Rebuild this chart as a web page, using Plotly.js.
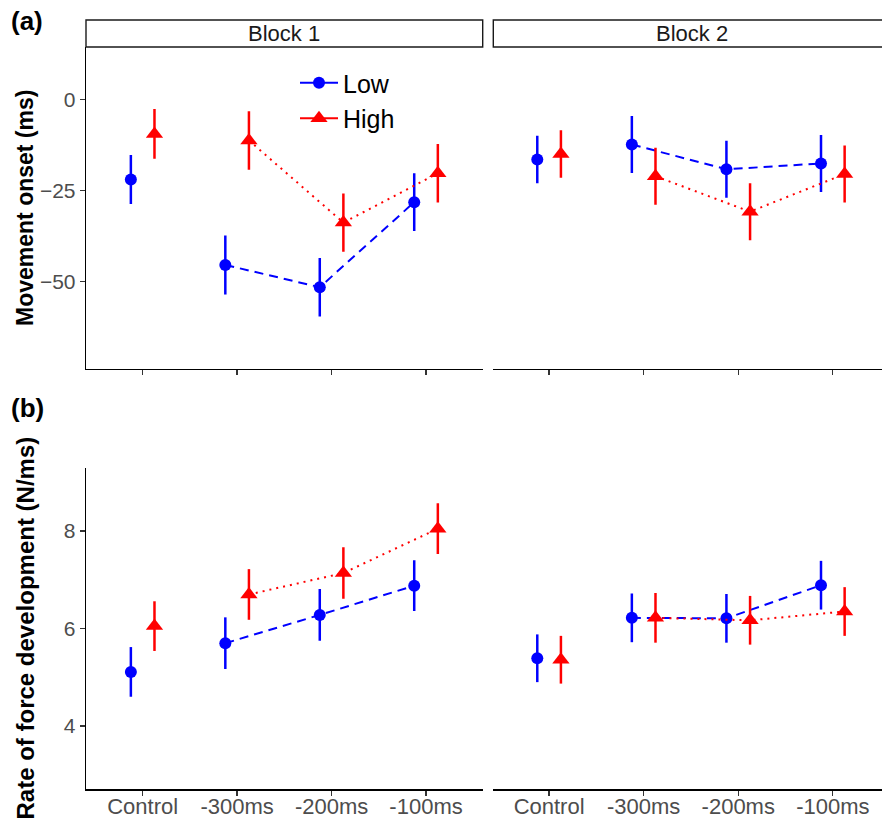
<!DOCTYPE html>
<html><head><meta charset="utf-8">
<script src="https://cdn.plot.ly/plotly-3.0.1.min.js"></script>
<style>html,body{margin:0;padding:0;background:#fff}#chart{width:882px;height:819px}</style>
</head><body><div id="chart"></div>
<script>
// ---- data ----
const categories = ['Control', '-300ms', '-200ms', '-100ms'];
const groups = ['Low', 'High'];
const blocks = ['Block 1', 'Block 2'];

// (a) Movement onset (ms)
const onsetB1Low = [-22.0, -45.4, -51.5, -28.2];
const onsetB1LowErr = [6.7, 8.1, 8.0, 7.9];
const onsetB1High = [-9.5, -11.3, -33.8, -20.3];
const onsetB1HighErr = [6.8, 8.0, 8.0, 8.0];
const onsetB2Low = [-16.5, -12.4, -19.2, -17.6];
const onsetB2LowErr = [6.5, 7.8, 7.8, 7.8];
const onsetB2High = [-15.0, -21.1, -30.8, -20.5];
const onsetB2HighErr = [6.5, 7.8, 7.8, 7.8];

// (b) Rate of force development (N/ms)
const rfdB1Low = [5.11, 5.70, 6.28, 6.88];
const rfdB1LowErr = [0.51, 0.53, 0.53, 0.52];
const rfdB1High = [6.05, 6.70, 7.14, 8.05];
const rfdB1HighErr = [0.51, 0.52, 0.53, 0.52];
const rfdB2Low = [5.39, 6.22, 6.21, 6.89];
const rfdB2LowErr = [0.49, 0.50, 0.50, 0.50];
const rfdB2High = [5.36, 6.22, 6.17, 6.35];
const rfdB2HighErr = [0.49, 0.51, 0.50, 0.50];

const onsetTicks = [-50, -25, 0];
const rfdTicks = [4, 6, 8];

// ---- layout helpers ----
const W = 882, H = 819;
const px = v => v / W;
const py = v => 1 - v / H;
const dodge = 0.125;
const xLow = categories.map((c, i) => i + 1 - dodge);
const xHigh = categories.map((c, i) => i + 1 + dodge);
const BLUE = '#0000FF', RED = '#FF0000';
const style = {
  Low: {color: BLUE, symbol: 'circle', size: 12, dash: '9px,6px', xs: xLow},
  High: {color: RED, symbol: 'triangle-up', size: 15, dash: '2px,5px', xs: xHigh}
};

function groupTraces(xa, ya, group, ys, errs, withLegend) {
  const s = style[group];
  const err = arr => ({type: 'data', array: arr, width: 0, thickness: 2.5, color: s.color});
  return [
    // Control point: single point, so the solid line only shows in the legend key
    {type: 'scatter', mode: 'lines+markers', name: group, x: s.xs.slice(0, 1), y: ys.slice(0, 1),
     error_y: err(errs.slice(0, 1)), line: {color: s.color, width: 2},
     marker: {color: s.color, symbol: s.symbol, size: s.size},
     xaxis: xa, yaxis: ya, showlegend: !!withLegend, hoverinfo: 'skip'},
    {type: 'scatter', mode: 'lines+markers', name: group, x: s.xs.slice(1), y: ys.slice(1),
     error_y: err(errs.slice(1)), line: {color: s.color, width: 2, dash: s.dash},
     marker: {color: s.color, symbol: s.symbol, size: s.size},
     xaxis: xa, yaxis: ya, showlegend: false, hoverinfo: 'skip'}
  ];
}

const traces = [].concat(
  groupTraces('x', 'y', 'Low', onsetB1Low, onsetB1LowErr, true),
  groupTraces('x', 'y', 'High', onsetB1High, onsetB1HighErr, true),
  groupTraces('x2', 'y2', 'Low', onsetB2Low, onsetB2LowErr),
  groupTraces('x2', 'y2', 'High', onsetB2High, onsetB2HighErr),
  groupTraces('x3', 'y3', 'Low', rfdB1Low, rfdB1LowErr),
  groupTraces('x3', 'y3', 'High', rfdB1High, rfdB1HighErr),
  groupTraces('x4', 'y4', 'Low', rfdB2Low, rfdB2LowErr),
  groupTraces('x4', 'y4', 'High', rfdB2High, rfdB2HighErr)
);

const TICKC = '#4D4D4D';
const F = 'Liberation Sans, Arial, sans-serif';
const baseX = {
  tickmode: 'array', tickvals: [1, 2, 3, 4], ticktext: categories,
  showline: true, linecolor: '#000', linewidth: 1.3,
  ticks: 'outside', ticklen: 5, tickwidth: 1.3, tickcolor: '#333',
  showgrid: false, zeroline: false, fixedrange: true, ticklabelstandoff: -8,
  tickfont: {family: F, size: 22, color: TICKC}
};
const baseY = {
  showline: true, linecolor: '#000', linewidth: 1.3,
  ticks: 'outside', ticklen: 5, tickwidth: 1.3, tickcolor: '#333',
  showgrid: false, zeroline: false, fixedrange: true,
  tickfont: {family: F, size: 21, color: TICKC}
};
const hiddenY = {showline: false, showticklabels: false, ticks: '', showgrid: false, zeroline: false, fixedrange: true};

const topDom = [py(369), py(47)];
const botDom = [py(789.3), py(468.3)];
const b1Dom = [px(86), px(482.7)];
const b2Dom = [px(493.3), 1];
const onsetRange = [-73.9, 14.3];
const rfdRange = [2.70, 9.29];

const layout = {
  width: W, height: H,
  margin: {l: 0, r: 0, t: 0, b: 0},
  paper_bgcolor: '#fff', plot_bgcolor: 'rgba(0,0,0,0)',
  font: {family: F},
  showlegend: true,
  legend: {x: px(295), y: py(60), xanchor: 'left', yanchor: 'top', itemwidth: 38,
    bgcolor: 'rgba(0,0,0,0)', font: {family: F, size: 25, color: '#000'}, tracegroupgap: 0},
  xaxis: Object.assign({}, baseX, {domain: b1Dom, range: [0.4, 4.6], anchor: 'y', showticklabels: false}),
  xaxis2: Object.assign({}, baseX, {domain: b2Dom, range: [0.41, 4.52], anchor: 'y2', showticklabels: false}),
  xaxis3: Object.assign({}, baseX, {domain: b1Dom, range: [0.4, 4.6], anchor: 'y3'}),
  xaxis4: Object.assign({}, baseX, {domain: b2Dom, range: [0.41, 4.52], anchor: 'y4'}),
  yaxis: Object.assign({}, baseY, {domain: topDom, range: onsetRange, tickvals: onsetTicks, anchor: 'x'}),
  yaxis2: Object.assign({}, hiddenY, {domain: topDom, range: onsetRange, anchor: 'x2'}),
  yaxis3: Object.assign({}, baseY, {domain: botDom, range: rfdRange, tickvals: rfdTicks, anchor: 'x3'}),
  yaxis4: Object.assign({}, hiddenY, {domain: botDom, range: rfdRange, anchor: 'x4'}),
  shapes: [
    {type: 'rect', xref: 'paper', yref: 'paper', x0: px(86), x1: px(482.7), y0: py(47), y1: py(20),
     line: {color: '#1A1A1A', width: 1.4}, fillcolor: '#fff', layer: 'below'},
    {type: 'rect', xref: 'paper', yref: 'paper', x0: px(493.3), x1: px(892), y0: py(47), y1: py(20),
     line: {color: '#1A1A1A', width: 1.4}, fillcolor: '#fff', layer: 'below'}
  ],
  annotations: [
    {text: blocks[0], xref: 'paper', yref: 'paper', x: px(284.3), y: py(33.5), xanchor: 'center', yanchor: 'middle',
     showarrow: false, font: {family: F, size: 22, color: '#1A1A1A'}},
    {text: blocks[1], xref: 'paper', yref: 'paper', x: px(691.5), y: py(33.5), xanchor: 'center', yanchor: 'middle',
     showarrow: false, font: {family: F, size: 22, color: '#1A1A1A'}},
    {text: '<b>(a)</b>', xref: 'paper', yref: 'paper', x: px(9), y: py(21), xanchor: 'left', yanchor: 'middle',
     showarrow: false, font: {family: F, size: 26, color: '#000'}},
    {text: '<b>(b)</b>', xref: 'paper', yref: 'paper', x: px(9), y: py(408), xanchor: 'left', yanchor: 'middle',
     showarrow: false, font: {family: F, size: 26, color: '#000'}},
    {text: '<b>Movement onset (ms)</b>', xref: 'paper', yref: 'paper', x: px(25), y: py(208), xanchor: 'center', yanchor: 'middle',
     textangle: -90, showarrow: false, font: {family: F, size: 23, color: '#000'}},
    {text: '<b>Rate of force development (N/ms)</b>', xref: 'paper', yref: 'paper', x: px(25), y: py(628.5), xanchor: 'center', yanchor: 'middle',
     textangle: -90, showarrow: false, font: {family: F, size: 24, color: '#000'}}
  ]
};

Plotly.newPlot('chart', traces, layout, {staticPlot: true, displayModeBar: false});
</script>
</body></html>
